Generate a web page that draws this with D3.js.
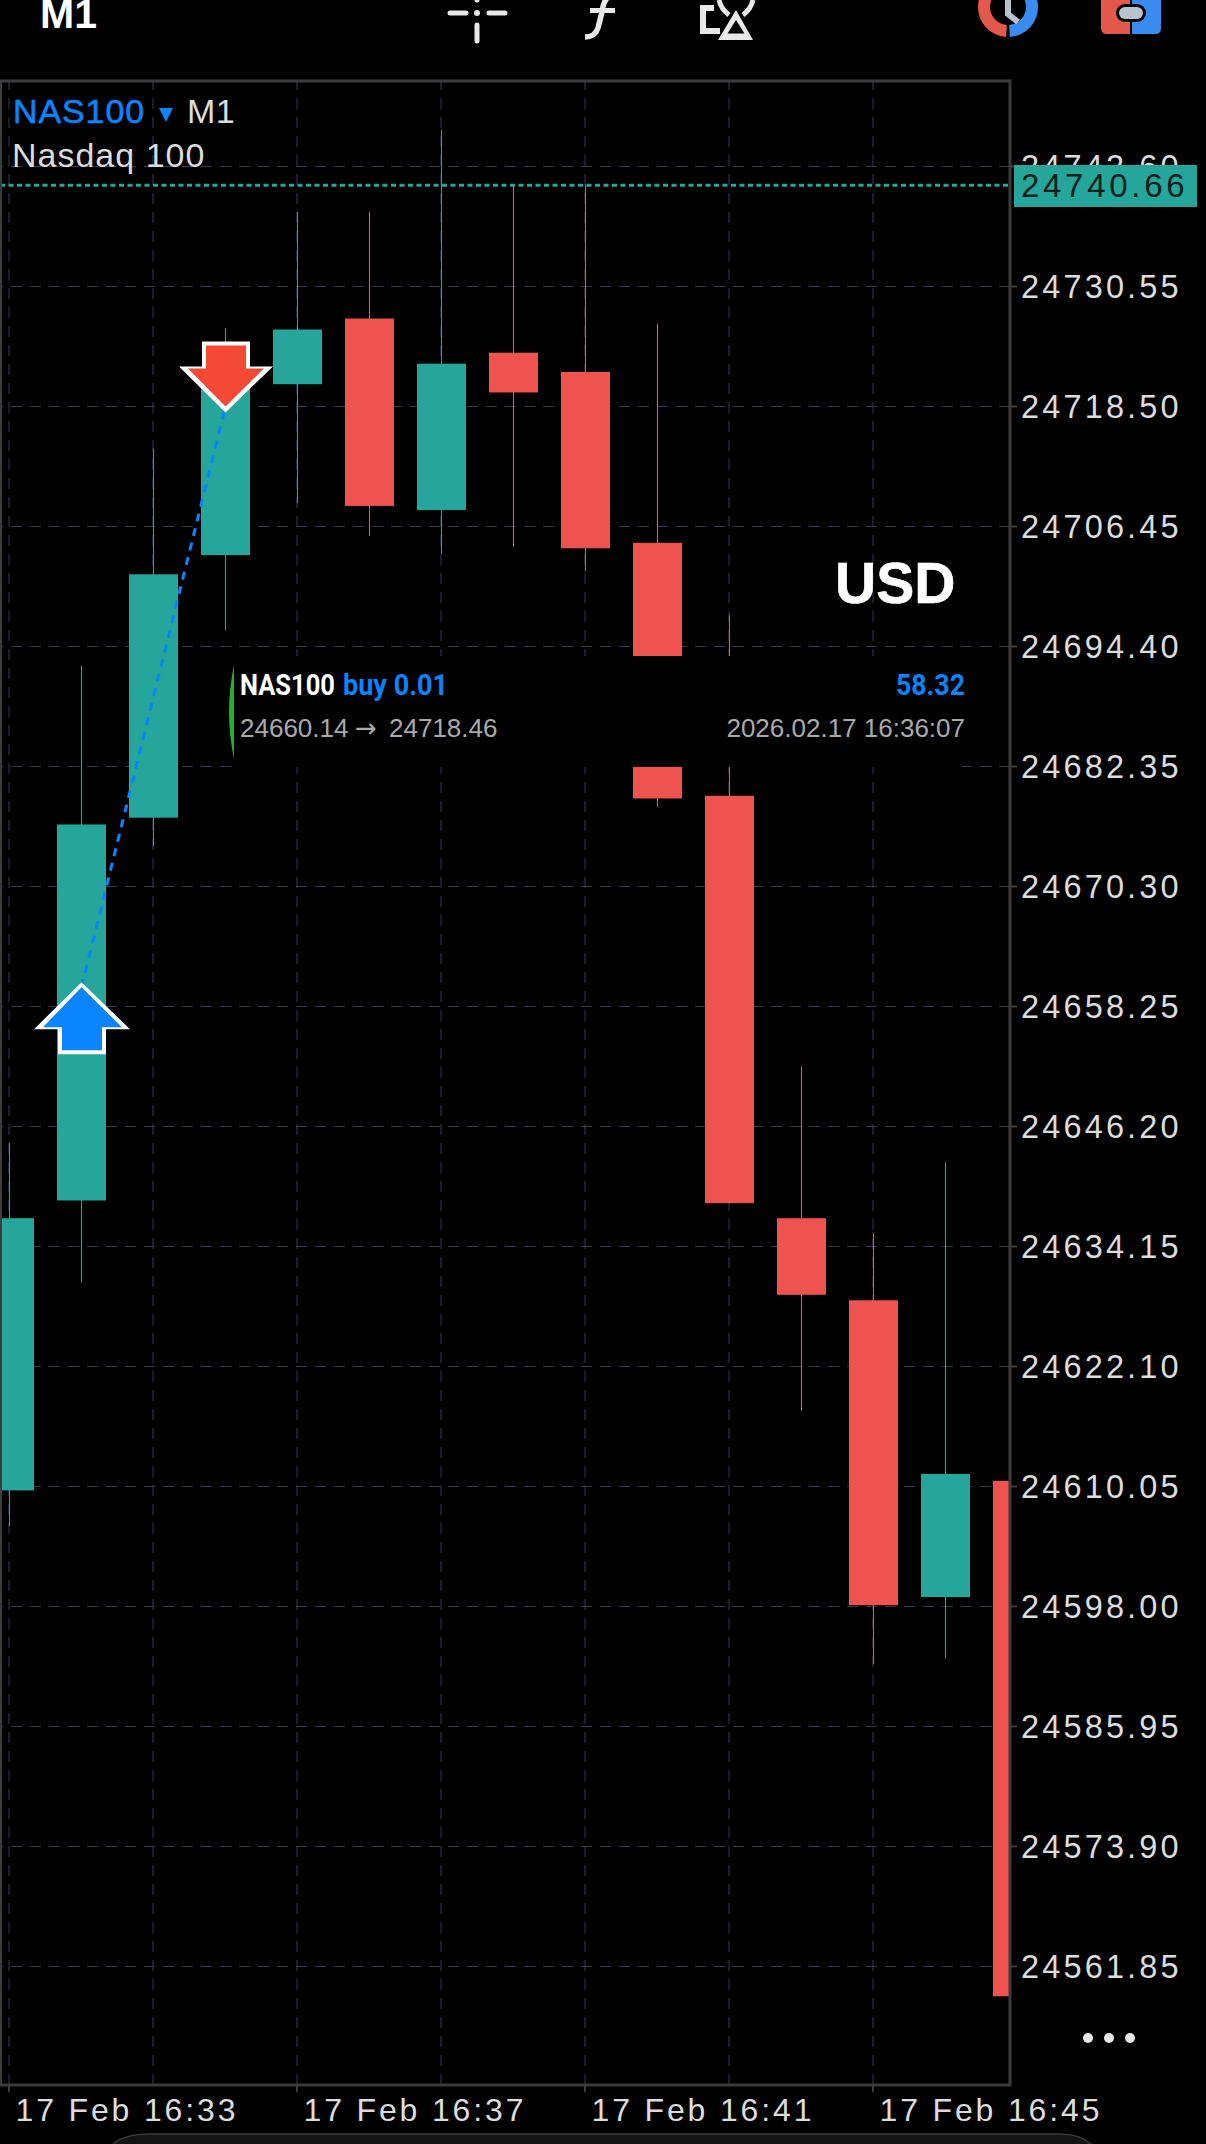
<!DOCTYPE html>
<html><head><meta charset="utf-8">
<script src="https://cdn.jsdelivr.net/npm/d3@7/dist/d3.min.js"></script>
<style>
html,body{margin:0;padding:0;background:#000;overflow:hidden}
svg{display:block}
text{font-family:"Liberation Sans",Arial,sans-serif}
</style></head><body>
<svg id="c" width="1206" height="2144"></svg>
<script>
// ---- data ----
const barMinutes = [33,34,35,36,37,38,39,40,41,42,43,44,45,46,47];
const opens  = [24609.61,24638.72,24677.16,24703.53,24720.69,24727.28,24708.06,24723.85,24721.92,24704.76,24679.36,24636.94,24628.70,24598.90,24610.57];
const closes = [24636.94,24676.48,24701.60,24720.69,24726.18,24708.47,24722.75,24719.86,24704.21,24679.09,24638.45,24629.25,24598.08,24611.26,24558.81];
const highs  = [24644.49,24692.40,24714.24,24726.32,24737.99,24737.99,24746.23,24740.73,24740.73,24726.73,24697.48,24652.18,24635.43,24642.56,24610.57];
const lows   = [24606.04,24630.48,24674.28,24695.97,24708.74,24705.45,24703.66,24704.35,24701.88,24678.26,24638.45,24617.58,24592.18,24592.73,24558.81];
const priceTicks = [24742.60,24730.55,24718.50,24706.45,24694.40,24682.35,24670.30,24658.25,24646.20,24634.15,24622.10,24610.05,24598.00,24585.95,24573.90,24561.85];
const timeGridMinutes = [33,35,37,39,41,43,45];
const timeLabelMinutes = [33,37,41,45];
const lastPrice = 24740.66;
const tradeEntry = {minute:34, price:24660.14};
const tradeExit  = {minute:36, price:24718.46};

const TEAL="#26a69a", RED="#ef5350", BLUE="#0a84ff", GRID="#3b3952", FRAME="#3c3c3c", LABEL="#dcdcdc";
const L=0,R=1010,T=81,B=2085;
const t = m => new Date(2026,1,17,16,m);
const x = d3.scaleTime().domain([t(33),t(45)]).range([8.5,872.5]);
const y = d3.scaleLinear().domain([24742.60,24561.85]).range([166,1966]);
const bw = 49, barShift = 1;
const bx = m => x(t(m))+barShift;
const svg = d3.select("#c");
svg.append("defs").append("clipPath").attr("id","plot").append("rect").attr("x",L).attr("y",T).attr("width",R-L).attr("height",B-T);

// grid
const hg = svg.append("g").attr("transform",`translate(${R},0)`)
  .call(d3.axisLeft(y).tickValues(priceTicks).tickSize(R-L).tickFormat(""));
hg.select(".domain").remove();
hg.selectAll("line").attr("stroke",GRID).attr("stroke-width",1).attr("stroke-dasharray","11 8");
const vg = svg.append("g").attr("transform",`translate(0,${B})`)
  .call(d3.axisTop(x).tickValues(timeGridMinutes.map(t)).tickSize(B-T).tickFormat(""));
vg.select(".domain").remove();
vg.selectAll("line").attr("stroke",GRID).attr("stroke-width",1).attr("stroke-dasharray","11 8");

// candles
const idx = d3.range(barMinutes.length);
const cg = svg.append("g").attr("clip-path","url(#plot)");
const col = i => closes[i]>=opens[i]?TEAL:RED;
cg.selectAll("line.w").data(idx).join("line").attr("class","w")
  .attr("x1",i=>bx(barMinutes[i])).attr("x2",i=>bx(barMinutes[i]))
  .attr("y1",i=>y(highs[i])).attr("y2",i=>y(lows[i]))
  .attr("stroke",col).attr("stroke-width",1.1);
cg.selectAll("rect.b").data(idx).join("rect").attr("class","b")
  .attr("x",i=>bx(barMinutes[i])-bw/2).attr("width",bw)
  .attr("y",i=>y(Math.max(opens[i],closes[i])))
  .attr("height",i=>Math.abs(y(opens[i])-y(closes[i])))
  .attr("fill",col);

// last price line
svg.append("line").attr("x1",L).attr("x2",R).attr("y1",y(lastPrice)).attr("y2",y(lastPrice))
  .attr("stroke",TEAL).attr("stroke-width",3).attr("stroke-dasharray","5 3.5");

// trade line and arrows
svg.append("line")
  .attr("x1",bx(tradeEntry.minute)).attr("y1",y(tradeEntry.price))
  .attr("x2",bx(tradeExit.minute)).attr("y2",y(tradeExit.price))
  .attr("stroke",BLUE).attr("stroke-width",3).attr("stroke-dasharray","8 7");
function marker(m,price,outer,inner,fill){
  const g=svg.append("g").attr("transform",`translate(${bx(m)},${y(price)})`);
  g.append("path").attr("d",outer).attr("fill","#fff");
  g.append("path").attr("d",inner).attr("fill",fill);
}
marker(tradeEntry.minute,tradeEntry.price,
  "M0,-5 L48.5,42 L24.5,42 L24.5,67 L-23.5,67 L-23.5,42 L-47.5,42 Z",
  "M0,0 L40.5,40 L20.5,40 L20.5,63 L-19.5,63 L-19.5,40 L-38.5,40 Z",BLUE);
marker(tradeExit.minute,tradeExit.price,
  "M0,6 L-46.5,-40 L-23.5,-40 L-23.5,-65 L24.5,-65 L24.5,-40 L47.5,-40 Z",
  "M0,0 L-37.5,-38 L-19.5,-38 L-19.5,-61 L20.5,-61 L20.5,-38 L38.5,-38 Z","#f44a35");

// frame
const frame = svg.append("g").attr("fill","none").attr("stroke",FRAME);
frame.append("path").attr("d",`M0.5,${T} H${R} V${B} H0.5 Z`).attr("stroke-width",3);

// axes
const ya = svg.append("g").attr("transform",`translate(${R},0)`)
  .call(d3.axisRight(y).tickValues(priceTicks).tickSize(7).tickPadding(4).tickFormat(d3.format(".2f")));
ya.select(".domain").remove();
ya.selectAll("line").attr("stroke",FRAME).attr("stroke-width",2);
ya.selectAll("text").attr("fill",LABEL).attr("font-size",32.5).attr("letter-spacing",3.15)
  .attr("font-family","Liberation Sans").attr("dy","0.36em");
const xa = svg.append("g").attr("transform",`translate(0,${B})`)
  .call(d3.axisBottom(x).tickValues(timeLabelMinutes.map(t)).tickSize(7).tickPadding(4).tickFormat(d3.timeFormat("%d %b %H:%M")));
xa.select(".domain").remove();
xa.selectAll("line").attr("stroke",FRAME).attr("stroke-width",2);
xa.selectAll("text").attr("fill",LABEL).attr("font-size",32).attr("letter-spacing",2.85)
  .attr("font-family","Liberation Sans").attr("text-anchor","start").attr("x",6.5).attr("y",0).attr("dy",36);

// last price tag
svg.append("rect").attr("x",1014).attr("y",165).attr("width",183).attr("height",42).attr("fill",TEAL);
svg.append("text").attr("x",1021).attr("y",197).attr("fill","#06201d").attr("font-size",33).attr("letter-spacing",3.7)
  .text(d3.format(".2f")(lastPrice));

// title
svg.append("text").attr("x",13).attr("y",123).attr("fill",BLUE).attr("stroke",BLUE).attr("stroke-width",0.6).attr("font-size",34).attr("letter-spacing",0.9).text("NAS100");
svg.append("path").attr("d","M159,108 H173 L166,122 Z").attr("fill",BLUE);
svg.append("text").attr("x",187).attr("y",123).attr("fill",LABEL).attr("font-size",34).attr("letter-spacing",0.5).text("M1");
svg.append("text").attr("x",12).attr("y",167).attr("fill",LABEL).attr("font-size",34).attr("letter-spacing",1).text("Nasdaq 100");
svg.append("text").attr("x",835).attr("y",603).attr("fill","#fff").attr("stroke","#fff").attr("stroke-width",0.6).attr("font-size",57).attr("font-weight",700).attr("font-family","Liberation Sans").text("USD");

// trade panel
svg.append("rect").attr("x",235).attr("y",656).attr("width",727).attr("height",111).attr("fill","#000");
svg.append("path").attr("d","M234,665 Q224,712 234,759 Z").attr("fill","#1fb032");
function ct(xx,txt,fill,len){const s=svg.append("text").attr("x",xx).attr("y",695).attr("fill",fill)
  .attr("textLength",len).attr("lengthAdjust","spacingAndGlyphs").text(txt);
  s.style("font-family","Roboto").style("font-weight",700).style("font-size","30px");}
ct(240,"NAS100","#fff",95);
ct(343,"buy 0.01",BLUE,105);
ct(896,"58.32",BLUE,69);
const sub=(xx,txt,anchor,font)=>svg.append("text").attr("x",xx).attr("y",737).attr("fill","#aaa").attr("font-size",26)
  .attr("text-anchor",anchor||"start").style("font-family",font||"Liberation Sans").text(txt);
sub(240,"24660.14");
sub(355,"→","start","DejaVu Sans");
sub(389,"24718.46");
sub(965,"2026.02.17 16:36:07","end");

// dots
svg.append("g").attr("fill","#e8e8e8").selectAll("ellipse").data([1088,1109,1130]).join("ellipse")
  .attr("cx",d=>d).attr("cy",2038).attr("rx",5).attr("ry",5);

// top toolbar
svg.append("text").attr("x",40).attr("y",28).attr("fill","#fff").attr("font-size",41).attr("font-weight",700).attr("font-family","Liberation Sans").text("M1");
const ic="#e8e8e8";
const cross=svg.append("g").attr("stroke",ic).attr("stroke-width",5).attr("stroke-linecap","round");
["M450,13 H466","M489,13 H505","M477,25 V41","M477,-5 V0"].forEach(d=>cross.append("path").attr("d",d));
svg.append("circle").attr("cx",477).attr("cy",13).attr("r",3).attr("fill",ic);
svg.append("path").attr("d","M608,-3 Q603,2 602,12 L598,28 Q595,37 585,37").attr("fill","none").attr("stroke",ic).attr("stroke-width",5.5);
svg.append("path").attr("d","M590,10.5 H615").attr("stroke",ic).attr("stroke-width",5);
svg.append("path").attr("d","M714,8 H703 V31 H720").attr("fill","none").attr("stroke",ic).attr("stroke-width",6);
svg.append("path").attr("d","M736,10 L753,40 H718 Z M736,20 L727.5,33.5 H744.5 Z").attr("fill",ic).attr("fill-rule","evenodd");
svg.append("path").attr("d","M719,0 Q721,9 729,15 M753,0 Q751,9 743,15").attr("fill","none").attr("stroke",ic).attr("stroke-width",5);
const arc=d3.arc().innerRadius(18).outerRadius(30);
svg.append("path").attr("transform","translate(1008,7)").attr("d",arc({startAngle:Math.PI*1.02,endAngle:Math.PI*2})).attr("fill","#e2584a");
svg.append("path").attr("transform","translate(1008,7)").attr("d",arc({startAngle:0,endAngle:Math.PI*0.98})).attr("fill","#3b8cf0");
svg.append("path").attr("d","M1008,0 V14 L1018,22").attr("fill","none").attr("stroke","#b8c4cc").attr("stroke-width",6);
svg.append("path").attr("d","M1130,-5 H1101 V28 Q1101,34 1107,34 H1130 Z").attr("fill","#e2584a");
svg.append("path").attr("d","M1132,-5 H1161 V28 Q1161,34 1155,34 H1132 Z").attr("fill","#3b8cf0");
svg.append("rect").attr("x",1116).attr("y",4).attr("width",30).attr("height",18).attr("rx",9).attr("fill","#000");
svg.append("rect").attr("x",1119).attr("y",7).attr("width",24).attr("height",12).attr("rx",6).attr("fill","#b8c4cc");

// bottom sheet edge
svg.append("path").attr("d","M108,2150 Q118,2134 150,2134 H1060 Q1085,2134 1096,2150 Z").attr("fill","#141414").attr("stroke","#3a3a3a").attr("stroke-width",1.5);
</script>
</body></html>
